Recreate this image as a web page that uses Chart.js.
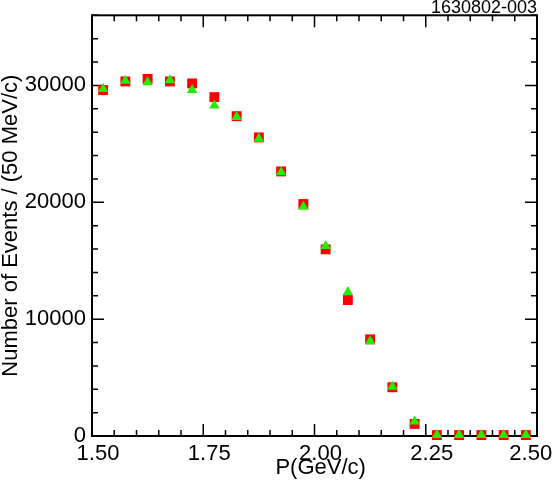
<!DOCTYPE html>
<html>
<head>
<meta charset="utf-8">
<script src="https://cdn.jsdelivr.net/npm/chart.js@4.4.0/dist/chart.umd.min.js"></script>
<style>
    html, body { margin: 0; padding: 0; background: #fff; }
    canvas { display: block; }
</style>
</head>
<body>
<canvas id="momentumChart" width="554" height="485"></canvas>
<script>
// Momentum bin centres (GeV/c), 50 MeV/c bins
const momentum = [1.525, 1.575, 1.625, 1.675, 1.725, 1.775, 1.825, 1.875, 1.925, 1.975,
                  2.025, 2.075, 2.125, 2.175, 2.225, 2.275, 2.325, 2.375, 2.425, 2.475];

// Red squares
const redCounts = [29600, 30340, 30560, 30340, 30170, 29000, 27370, 25550, 22640, 19850,
                   15970, 11630, 8270, 4170, 1030, 80, 80, 80, 80, 80];

// Green triangles
const greenCounts = [29700, 30400, 30280, 30450, 29600, 28290, 27300, 25430, 22580, 19620,
                     16250, 12320, 8100, 4220, 1250, 80, 80, 80, 80, 80];

const xTicks = [1.50, 1.75, 2.00, 2.25, 2.50];
const yTicks = [0, 10000, 20000, 30000];

const FONT = '"Liberation Sans", Arial, Helvetica, sans-serif';

function toPoints(xs, ys) {
    return xs.map((x, i) => ({ x: x, y: ys[i] }));
}

function isMajor(list, v) {
    return list.some(t => Math.abs(t - v) < 1e-6);
}

// Frame plus inward ticks on all four sides
const framePlugin = {
    id: 'frame',
    beforeDatasetsDraw(chart) {
        const { ctx, chartArea: a, scales } = chart;
        ctx.save();
        ctx.strokeStyle = '#000';
        ctx.lineWidth = 1.5;
        ctx.beginPath();
        scales.x.ticks.forEach(t => {
            const px = scales.x.getPixelForValue(t.value);
            const len = isMajor(xTicks, t.value) ? 12 : 6;
            ctx.moveTo(px, a.bottom);
            ctx.lineTo(px, a.bottom - len);
            ctx.moveTo(px, a.top);
            ctx.lineTo(px, a.top + len);
        });
        scales.y.ticks.forEach(t => {
            const py = scales.y.getPixelForValue(t.value);
            const len = isMajor(yTicks, t.value) ? 12 : 6;
            ctx.moveTo(a.left, py);
            ctx.lineTo(a.left + len, py);
            ctx.moveTo(a.right, py);
            ctx.lineTo(a.right - len, py);
        });
        ctx.stroke();
        ctx.lineWidth = 2;
        ctx.strokeRect(a.left, a.top, a.right - a.left, a.bottom - a.top);
        ctx.restore();
    }
};

new Chart(document.getElementById('momentumChart'), {
    type: 'scatter',
    data: {
        datasets: [
            {
                label: 'red',
                data: toPoints(momentum, redCounts),
                pointStyle: 'rect',
                pointRadius: 7,
                backgroundColor: '#ff0000',
                borderColor: '#ff0000',
                borderWidth: 0,
                clip: false,
                order: 2
            },
            {
                label: 'green',
                data: toPoints(momentum, greenCounts),
                pointStyle: 'triangle',
                pointRadius: 6,
                backgroundColor: '#22ee00',
                borderColor: '#22ee00',
                borderWidth: 0,
                clip: false,
                order: 1
            }
        ]
    },
    options: {
        responsive: false,
        animation: false,
        layout: { padding: { left: 0, top: 0, right: 17, bottom: 0 } },
        plugins: {
            legend: { display: false },
            tooltip: { enabled: false },
            title: {
                display: true,
                text: '1630802-003',
                align: 'end',
                color: '#000',
                font: { family: FONT, size: 18, weight: 'normal', lineHeight: 0.85 },
                padding: { top: 0, bottom: 0 }
            }
        },
        scales: {
            x: {
                type: 'linear',
                min: 1.5,
                max: 2.5,
                grid: { display: false, drawTicks: false },
                border: { display: false },
                ticks: {
                    stepSize: 0.05,
                    autoSkip: false,
                    maxRotation: 0,
                    padding: 5,
                    labelOffset: 6,
                    color: '#000',
                    font: { family: FONT, size: 22 },
                    // last label pulled left so it stays inside the canvas
                    callback: v => {
                        if (!isMajor(xTicks, v)) return '';
                        return Math.abs(v - 2.5) < 1e-6 ? v.toFixed(2) + '    ' : v.toFixed(2);
                    }
                },
                title: {
                    display: true,
                    text: '  P(GeV/c)',
                    color: '#000',
                    font: { family: FONT, size: 22, lineHeight: 1 },
                    padding: { top: 0, bottom: 6 }
                },
                afterFit(scale) {
                    scale.height = 49;
                    scale.paddingLeft = 0;
                    scale.paddingRight = 0;
                }
            },
            y: {
                type: 'linear',
                min: 0,
                max: 36000,
                grid: { display: false, drawTicks: false },
                border: { display: false },
                ticks: {
                    stepSize: 2000,
                    autoSkip: false,
                    padding: 6,
                    color: '#000',
                    font: { family: FONT, size: 22 },
                    callback: v => isMajor(yTicks, v) ? String(v) : ''
                },
                title: {
                    display: true,
                    text: 'Number of Events / (50 MeV/c)',
                    color: '#000',
                    font: { family: FONT, size: 22, lineHeight: 1 },
                    padding: { top: 0, bottom: 0 }
                },
                afterFit(scale) {
                    scale.width = 92;
                    scale.paddingTop = 0;
                    scale.paddingBottom = 0;
                }
            }
        }
    },
    plugins: [framePlugin]
});
</script>
</body>
</html>
